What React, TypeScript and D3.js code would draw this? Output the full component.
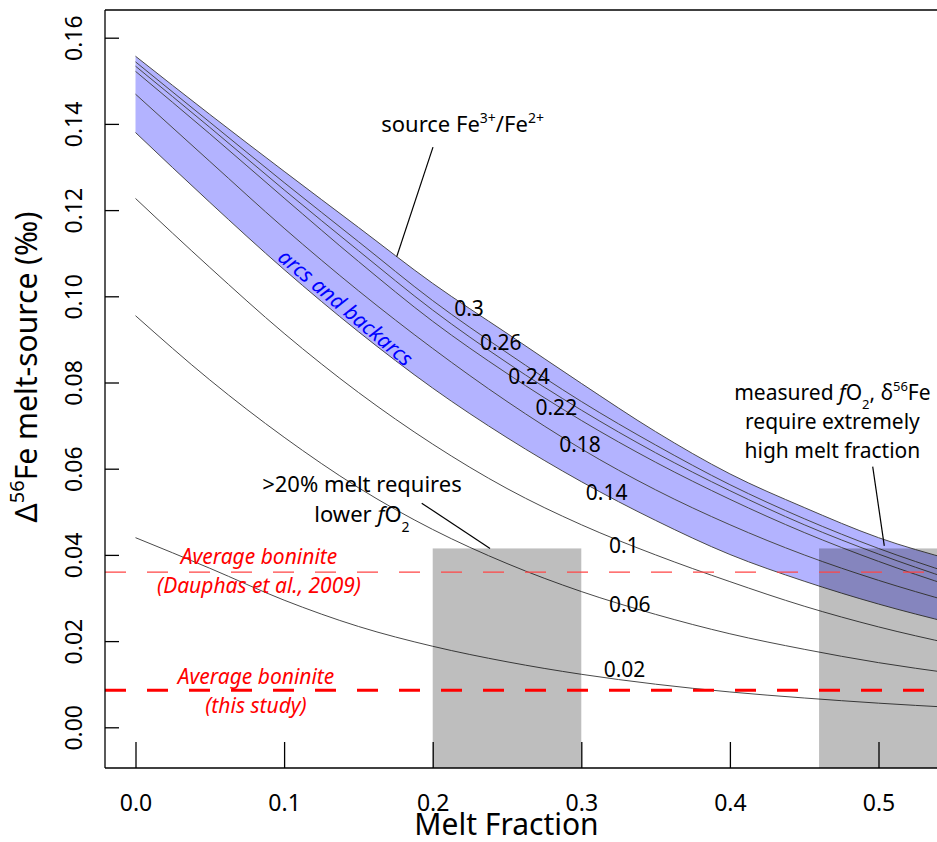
import React, { useEffect, useRef } from "react";
import * as d3 from "d3";

// melt fraction grid the model curves were read at
const meltFraction = [0, 0.05, 0.1, 0.15, 0.2, 0.25, 0.3, 0.35, 0.4, 0.45, 0.5, 0.55];

// Δ56Fe melt-source for each source Fe3+/Fe2+ ratio
const fe030 = [0.1557, 0.1422, 0.1290, 0.1160, 0.1030, 0.0914, 0.0798, 0.0686, 0.0588, 0.0510, 0.0440, 0.0388];
const fe026 = [0.1544, 0.1404, 0.1264, 0.1127, 0.0990, 0.0869, 0.0756, 0.0655, 0.0563, 0.0484, 0.0415, 0.0356];
const fe024 = [0.1534, 0.1392, 0.1247, 0.1106, 0.0968, 0.0846, 0.0736, 0.0637, 0.0549, 0.0470, 0.0402, 0.0342];
const fe022 = [0.1522, 0.1377, 0.1228, 0.1081, 0.0942, 0.0821, 0.0712, 0.0615, 0.0529, 0.0452, 0.0385, 0.0326];
const fe018 = [0.1469, 0.1313, 0.1158, 0.1013, 0.0879, 0.0756, 0.0646, 0.0551, 0.0470, 0.0400, 0.0341, 0.0290];
const fe014 = [0.1380, 0.1218, 0.1062, 0.0918, 0.0787, 0.0672, 0.0570, 0.0480, 0.0401, 0.0339, 0.0286, 0.0241];
const fe010 = [0.1227, 0.1067, 0.0914, 0.0777, 0.0657, 0.0554, 0.0470, 0.0400, 0.0338, 0.0281, 0.0233, 0.0193];
const fe006 = [0.0955, 0.0806, 0.0673, 0.0556, 0.0459, 0.0380, 0.0315, 0.0262, 0.0217, 0.0181, 0.0150, 0.0125];
const fe002 = [0.0440, 0.0369, 0.0295, 0.0234, 0.0188, 0.0152, 0.0123, 0.0100, 0.0082, 0.0068, 0.0056, 0.0046];

const ratioLabels = ["0.3", "0.26", "0.24", "0.22", "0.18", "0.14", "0.1", "0.06", "0.02"];
const ratioSeries = [fe030, fe026, fe024, fe022, fe018, fe014, fe010, fe006, fe002];
// where each ratio label sits (melt fraction, Δ56Fe)
const ratioLabelF = [0.2244, 0.2458, 0.2648, 0.2832, 0.2991, 0.3171, 0.3287, 0.3326, 0.3291];
const ratioLabelV = [0.0973, 0.0894, 0.0816, 0.0743, 0.0657, 0.0546, 0.0423, 0.0286, 0.0135];

// boninite averages
const boniniteDauphas = 0.036;
const boniniteThisStudy = 0.0086;

// shaded melt fraction windows
const windowStart = [0.2, 0.46];
const windowEnd = [0.3, 0.6];
const windowTop = 0.0415;

const xTicks = [0, 0.1, 0.2, 0.3, 0.4, 0.5];
const yTicks = [0, 0.02, 0.04, 0.06, 0.08, 0.1, 0.12, 0.14, 0.16];

const FONT = "'Noto Sans', 'Open Sans', sans-serif";

const App = () => {
  const ref = useRef<SVGSVGElement>(null);

  useEffect(() => {
    document.body.style.margin = "0";
    const W = 937;
    const frame = { left: 105, top: 10, bottom: 768, right: W };

    const svg = d3.select(ref.current);
    svg.selectAll("*").remove();

    const x = d3.scaleLinear().domain([0, 0.5]).range([135.5, 878.5]);
    const y = d3.scaleLinear().domain([0, 0.16]).range([727.3, 37.7]);

    const pts = (s: number[]) => s.map((v, i) => [meltFraction[i], v] as [number, number]);

    // arcs / backarcs band
    const band = d3.area<number>()
      .x((_, i) => x(meltFraction[i]))
      .y0((d) => y(d))
      .y1((_, i) => y(fe030[i]))
      .curve(d3.curveMonotoneX);
    svg.append("path").datum(fe014).attr("d", band).attr("fill", "#b3b3ff");

    const line = d3.line<[number, number]>()
      .x((d) => x(d[0]))
      .y((d) => y(d[1]))
      .curve(d3.curveMonotoneX);

    svg.selectAll("path.curve")
      .data(ratioSeries)
      .enter()
      .append("path")
      .attr("class", "curve")
      .attr("d", (d) => line(pts(d)))
      .attr("fill", "none")
      .attr("stroke", "#4a4a4a")
      .attr("stroke-width", 1);

    // gray windows
    svg.selectAll("rect.win")
      .data(windowStart)
      .enter()
      .append("rect")
      .attr("class", "win")
      .attr("x", (d) => x(d))
      .attr("y", y(windowTop))
      .attr("width", (d, i) => x(windowEnd[i]) - x(d))
      .attr("height", frame.bottom - y(windowTop))
      .attr("fill", "#000")
      .attr("fill-opacity", 0.255);

    // boninite lines
    svg.append("line")
      .attr("x1", frame.left).attr("x2", W)
      .attr("y1", y(boniniteDauphas)).attr("y2", y(boniniteDauphas))
      .attr("stroke", "#ff4545").attr("stroke-width", 1.2)
      .attr("stroke-dasharray", "21,21");
    svg.append("line")
      .attr("x1", frame.left).attr("x2", W)
      .attr("y1", y(boniniteThisStudy)).attr("y2", y(boniniteThisStudy))
      .attr("stroke", "#ff0000").attr("stroke-width", 3)
      .attr("stroke-dasharray", "21,21");

    // frame
    const fr = svg.append("g").attr("stroke", "#000").attr("stroke-width", 1.3);
    fr.append("line").attr("x1", frame.left).attr("x2", frame.left).attr("y1", frame.top).attr("y2", frame.bottom);
    fr.append("line").attr("x1", frame.left).attr("x2", frame.right).attr("y1", frame.top).attr("y2", frame.top);
    fr.append("line").attr("x1", frame.left).attr("x2", frame.right).attr("y1", frame.bottom).attr("y2", frame.bottom);

    // y axis
    const gy = svg.append("g").attr("transform", `translate(${frame.left},0)`)
      .call(d3.axisLeft(y).tickValues(yTicks).tickSize(-14).tickSizeOuter(0).tickFormat(d3.format(".2f")));
    gy.select(".domain").remove();
    gy.selectAll("line").attr("stroke", "#000").attr("stroke-width", 1.3);
    gy.selectAll("text")
      .attr("x", null).attr("dy", null)
      .attr("transform", "translate(-23,0) rotate(-90)")
      .attr("text-anchor", "middle")
      .attr("font-family", FONT).attr("font-size", 23).attr("fill", "#000");

    // x axis
    const gx = svg.append("g").attr("transform", `translate(0,${frame.bottom})`)
      .call(d3.axisBottom(x).tickValues(xTicks).tickSize(-26).tickSizeOuter(0).tickFormat(d3.format(".1f")));
    gx.select(".domain").remove();
    gx.selectAll("line").attr("stroke", "#000").attr("stroke-width", 1.3);
    gx.selectAll("text")
      .attr("y", 43).attr("dy", null)
      .attr("font-family", FONT).attr("font-size", 23).attr("fill", "#000");

    // axis titles
    svg.append("text")
      .attr("x", (frame.left + 908) / 2).attr("y", 835)
      .attr("text-anchor", "middle")
      .attr("font-family", FONT).attr("font-size", 30)
      .text("Melt Fraction");

    const yl = svg.append("text")
      .attr("transform", "translate(37,367) rotate(-90)")
      .attr("text-anchor", "middle")
      .attr("font-family", FONT).attr("font-size", 30);
    yl.append("tspan").text("Δ");
    yl.append("tspan").attr("baseline-shift", "super").attr("font-size", 20).text("56");
    yl.append("tspan").text("Fe melt-source (‰)");

    // ratio labels
    svg.selectAll("text.ratio")
      .data(ratioLabels)
      .enter()
      .append("text")
      .attr("class", "ratio")
      .attr("x", (_, i) => x(ratioLabelF[i]))
      .attr("y", (_, i) => y(ratioLabelV[i]))
      .attr("dominant-baseline", "central")
      .attr("text-anchor", "middle")
      .attr("font-family", FONT).attr("font-size", 21)
      .text((d) => d);

    const ann = svg.append("g").attr("font-family", FONT).attr("font-size", 22).attr("fill", "#000");

    // source Fe3+/Fe2+
    const src = ann.append("text").attr("x", x(0.2201)).attr("y", y(0.1382)).attr("text-anchor", "middle");
    src.append("tspan").text("source Fe");
    src.append("tspan").attr("baseline-shift", "super").attr("font-size", 14).text("3+");
    src.append("tspan").text("/Fe");
    src.append("tspan").attr("baseline-shift", "super").attr("font-size", 14).text("2+");

    const leader = (f1: number, v1: number, f2: number, v2: number) =>
      svg.append("line")
        .attr("x1", x(f1)).attr("y1", y(v1))
        .attr("x2", x(f2)).attr("y2", y(v2))
        .attr("stroke", "#000").attr("stroke-width", 1.2);
    leader(0.2002, 0.1346, 0.1758, 0.1092);

    // arcs and backarcs
    svg.append("text")
      .attr("transform", `translate(${x(0.1417)},${y(0.0975)}) rotate(40)`)
      .attr("text-anchor", "middle")
      .attr("dominant-baseline", "central")
      .attr("font-family", FONT).attr("font-size", 21).attr("font-style", "italic")
      .attr("fill", "#0000ff")
      .text("arcs and backarcs");

    // >20% melt requires lower fO2
    ann.append("text").attr("x", x(0.1524)).attr("y", y(0.0547)).attr("text-anchor", "middle")
      .text(">20% melt requires");
    const low = ann.append("text").attr("x", x(0.1524)).attr("y", y(0.0477)).attr("text-anchor", "middle");
    low.append("tspan").text("lower ");
    low.append("tspan").attr("font-style", "italic").text("f");
    low.append("tspan").text("O");
    low.append("tspan").attr("baseline-shift", "sub").attr("font-size", 14).text("2");
    leader(0.1926, 0.0520, 0.2386, 0.0415);

    // measured fO2 ...
    const right = svg.append("g").attr("font-family", FONT).attr("font-size", 21).attr("fill", "#000")
      .attr("text-anchor", "middle");
    const m1 = right.append("text").attr("x", x(0.469)).attr("y", y(0.0759));
    m1.append("tspan").text("measured ");
    m1.append("tspan").attr("font-style", "italic").text("f");
    m1.append("tspan").text("O");
    m1.append("tspan").attr("baseline-shift", "sub").attr("font-size", 13).text("2");
    m1.append("tspan").text(", δ");
    m1.append("tspan").attr("baseline-shift", "super").attr("font-size", 13).text("56");
    m1.append("tspan").text("Fe");
    right.append("text").attr("x", x(0.469)).attr("y", y(0.0692)).text("require extremely");
    right.append("text").attr("x", x(0.469)).attr("y", y(0.0625)).text("high melt fraction");
    leader(0.4961, 0.0605, 0.5039, 0.0421);

    // boninite labels
    const red = svg.append("g").attr("font-family", FONT).attr("font-size", 21)
      .attr("font-style", "italic").attr("fill", "#ff0000").attr("text-anchor", "middle");
    red.append("text").attr("x", x(0.0831)).attr("y", y(0.0380)).text("Average boninite");
    red.append("text").attr("x", x(0.0831)).attr("y", y(0.0312)).text("(Dauphas et al., 2009)");
    red.append("text").attr("x", x(0.0811)).attr("y", y(0.0100)).text("Average boninite");
    red.append("text").attr("x", x(0.0811)).attr("y", y(0.0034)).text("(this study)");
  }, []);

  return <svg ref={ref} width={937} height={842} style={{ display: "block", background: "#fff" }} />;
};

export default App;
